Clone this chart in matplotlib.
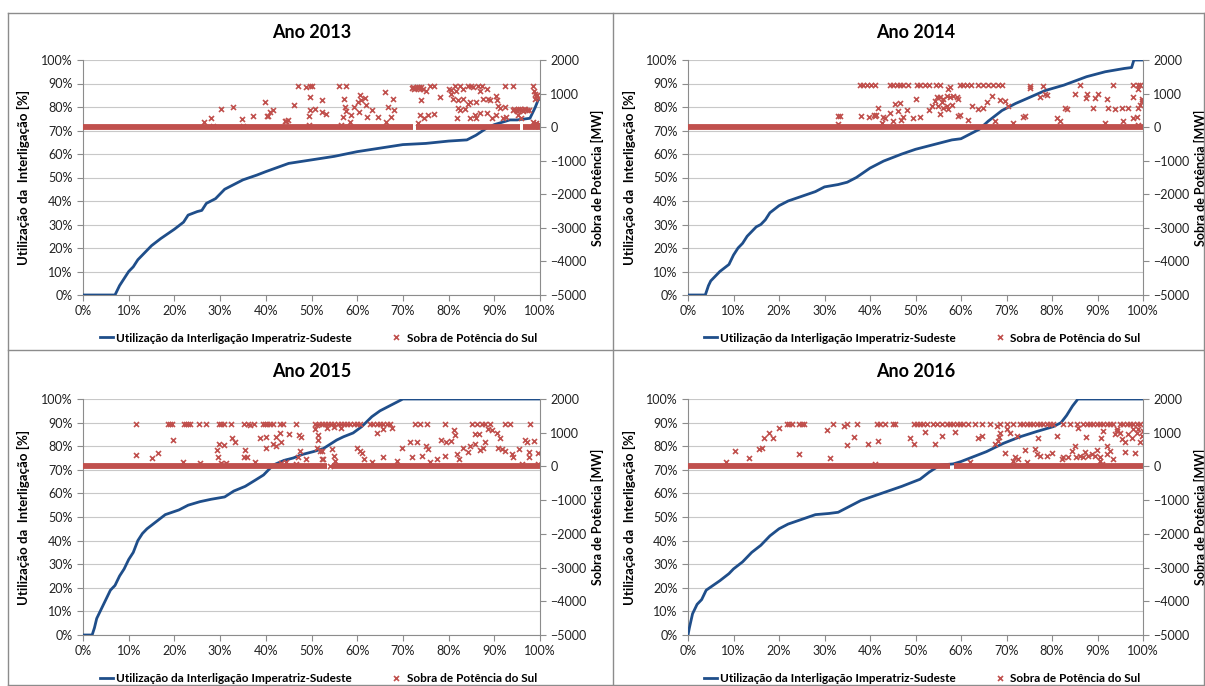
import matplotlib
matplotlib.use('Agg')
import matplotlib.pyplot as plt
from matplotlib.lines import Line2D
from matplotlib.ticker import FuncFormatter

plt.rcParams['font.family'] = ['Lato', 'DejaVu Sans']

# ---- data ----
years = ['2013', '2014', '2015', '2016']

# utilizacao da interligacao: % do tempo -> % de utilizacao
line_2013_x = [0, 7, 8, 9, 10, 11, 12, 13, 15, 17, 20, 22, 23, 25, 26, 27, 29, 30, 31, 33, 35, 38, 40,
               45, 50, 55, 60, 65, 70, 75, 80, 84, 86, 88.3, 90, 93.4, 95, 97.8, 98.9, 99.6, 100]
line_2013_y = [0, 0, 4, 7, 10, 12, 15, 17, 21, 24, 28, 31, 34, 35.5, 36, 39, 41, 43, 45, 47, 49, 51, 52.5,
               56, 57.5, 59, 61, 62.5, 64, 64.5, 65.5, 66, 68, 71, 72.5, 74.5, 74.5, 75.2, 79.6, 83, 83.5]

line_2014_x = [0, 3.8, 4.5, 5, 6, 7, 8, 9, 10, 11, 12, 13, 15, 16, 17, 18, 20, 22, 25, 28, 30, 33, 35, 37,
               40, 43, 47, 50, 52, 55, 58, 60, 62, 64, 66, 69, 72, 74.5, 78.5, 82.6, 87.6, 91.7, 95.9, 97.5,
               98, 100]
line_2014_y = [0, 0, 4, 6, 8, 10, 11.5, 13, 17, 20, 22, 25, 29, 30, 32, 35, 38, 40, 42, 44, 46, 47, 48, 50,
               54, 57, 60, 62, 63, 64.5, 66, 66.5, 68.5, 70.5, 74, 78.5, 81.5, 83.6, 87, 89.3, 92.9, 95, 96.4,
               96.8, 100, 100]

line_2015_x = [0, 2, 2.5, 3, 4, 5, 6, 7, 8, 9, 10, 11, 12, 13, 14, 16, 18, 21, 23, 25.6, 28, 29.5, 31,
               33, 35.5, 37.6, 39.5, 41.6, 44, 46, 48, 50.4, 52.6, 55.5, 57, 59.1, 61, 63.2, 65, 67, 68.5, 70,
               100]
line_2015_y = [0, 0, 3, 7, 11, 15, 19, 21, 25, 28, 32, 35, 40, 43, 45, 48, 51, 53, 55, 56.5, 57.5, 58,
               58.5, 61, 63, 65.5, 67.8, 72, 74, 75, 76.5, 77.7, 79, 82.6, 84, 85.6, 88.3, 92.5, 95, 97, 98.5,
               100, 100]

line_2016_x = [0, 0.3, 1, 2, 3, 4, 5.5, 7, 9, 10, 12, 14, 16, 18, 20, 22, 25, 28, 31, 33, 35, 38, 41, 44,
               47, 51, 53, 55.4, 58.3, 60, 62, 65.6, 69.3, 73, 76.6, 80.3, 82, 83.2, 84.5, 85.7, 100]
line_2016_y = [0, 3, 9, 13, 15, 19, 21, 23, 26, 28, 31, 35, 38, 42, 45, 47, 49, 51, 51.5, 52, 54, 57, 59,
               61, 63, 66, 69, 72, 72.5, 73.5, 75, 77.7, 81.2, 84, 86.2, 88.3, 90, 93, 97, 100, 100]

# sobra de potencia do sul: faixas de tempo (em %) com sobra = 0 MW
zero_2013 = [(0, 72.2), (72.9, 95.6), (96.2, 100)]
zero_2014 = [(0, 100)]
zero_2015 = [(0, 53.3), (54.5, 100)]
zero_2016 = [(0, 57.6), (58.4, 100)]

# pontos com sobra > 0: (% do tempo, MW)
pts_2013 = [(26.5, 160), (28.0, 265), (28.5, 35), (30.3, 540), (32.9, 590), (34.9, 235), (35.1, 35),
            (37.2, 340), (39.8, 750), (40.2, 330), (40.5, 340), (40.9, 440), (41.6, 505), (44.2, 180),
            (44.4, 195), (44.9, 215), (46.1, 650), (47.1, 1235), (48.9, 1205), (49.6, 1215), (50.1, 1215),
            (49.6, 895), (49.6, 505), (49.5, 340), (50.7, 535), (52.2, 800), (52.4, 440), (53.1, 390),
            (49.5, 70), (56.0, 1215), (57.6, 1215), (57.1, 825), (57.3, 600), (57.6, 475), (56.9, 310),
            (58.7, 360), (58.4, 165), (56.5, 70), (60.6, 945), (60.9, 800), (61.6, 865), (60.2, 750),
            (62.0, 650), (59.3, 600), (60.4, 455), (62.2, 310), (63.3, 505), (64.6, 310), (66.0, 1060),
            (66.8, 600), (67.8, 825), (68.0, 505), (67.5, 310), (66.4, 165), (71.9, 1180), (72.3, 1190),
            (72.7, 1170), (73.0, 1200), (73.3, 1160), (73.6, 1185), (74.0, 1200), (74.4, 1150),
            (72.5, 1140), (73.8, 1130), (74.0, 800), (75.1, 1090), (75.9, 1215), (76.8, 1215), (73.7, 360),
            (74.6, 280), (75.5, 360), (76.7, 380), (73.3, 115), (78.2, 895), (80.1, 1140), (80.6, 1120),
            (80.5, 990), (81.3, 1215), (81.7, 1090), (82.6, 1215), (83.2, 1140), (84.3, 1235), (85.0, 1215),
            (85.3, 1185), (86.4, 1235), (87.2, 1215), (86.8, 1090), (88.4, 1140), (81.0, 850), (82.1, 800),
            (83.2, 825), (84.3, 700), (82.1, 575), (82.4, 505), (83.5, 555), (84.6, 750), (86.1, 750),
            (87.5, 845), (88.6, 845), (89.0, 800), (90.4, 925), (90.6, 800), (91.3, 575), (92.3, 600),
            (90.8, 630), (81.8, 260), (84.6, 260), (85.7, 360), (86.1, 260), (86.8, 410), (88.3, 410),
            (89.6, 280), (90.4, 360), (91.8, 260), (92.6, 310), (92.3, 1215), (94.1, 1215), (98.5, 1235),
            (98.6, 1090), (94.0, 520), (94.4, 540), (94.8, 500), (95.2, 530), (95.6, 545), (96.0, 510),
            (96.4, 530), (96.8, 550), (97.2, 520), (97.6, 500), (95.0, 480), (96.2, 490), (95.2, 360),
            (95.9, 280), (98.8, 990), (99.2, 925), (99.0, 845), (99.4, 960), (99.7, 880), (98.5, 165),
            (98.9, 80), (99.2, 120), (99.5, 40), (99.8, 100), (99.0, 20)]

pts_2014 = [(32.9, 100), (32.9, 320), (33.4, 325), (38.0, 343), (39.7, 304), (40.9, 372),
            (37.8, 1250), (38.5, 1250), (39.3, 1250), (40.2, 1250), (41.1, 1250), (44.4, 1250), (45.1, 1250),
            (45.9, 1250), (46.6, 1250), (47.3, 1250), (48.4, 1250), (50.3, 1250), (51.0, 1250), (52.1, 1250),
            (53.0, 1250), (54.5, 1250), (55.4, 1250), (59.8, 1250), (60.5, 1250), (61.3, 1250), (62.1, 1250),
            (63.8, 1250), (64.9, 1250), (66.0, 1250), (67.1, 1250), (68.2, 1250), (69.1, 1250), (75.2, 1240),
            (78.1, 1240), (86.2, 1250), (93.5, 1250), (97.9, 1250), (99.0, 1250),
            (41.1, 325), (41.8, 580), (41.3, 375), (42.9, 295), (43.4, 275), (44.4, 430), (42.6, 120),
            (45.1, 175), (45.5, 685), (46.6, 705), (46.2, 480), (46.9, 225), (48.1, 500), (47.3, 295),
            (49.4, 275), (50.1, 835), (51.0, 295), (53.0, 500), (53.6, 630), (54.3, 785), (54.7, 910),
            (55.4, 910), (55.8, 735), (56.1, 835), (56.9, 940), (57.6, 890), (58.3, 940), (59.1, 890),
            (59.4, 835), (57.2, 1140), (57.6, 1195), (55.0, 630), (56.1, 580), (56.9, 630), (57.2, 530),
            (58.0, 655), (55.4, 400), (59.8, 375), (59.4, 325), (62.4, 630), (61.6, 225), (63.8, 530),
            (64.9, 580), (65.7, 735), (66.8, 940), (68.6, 805), (69.7, 785), (70.4, 630), (67.5, 175),
            (71.5, 120), (73.6, 295), (74.1, 325), (75.2, 1170), (77.4, 890), (78.5, 990), (78.9, 970),
            (81.0, 275), (81.8, 175), (83.2, 530), (82.9, 580), (85.1, 990), (87.6, 990), (87.5, 865),
            (89.1, 580), (89.5, 865), (90.2, 990), (92.0, 835), (91.7, 120), (92.4, 580), (93.9, 530),
            (95.3, 580), (95.7, 175), (96.8, 580), (97.9, 275), (97.9, 890), (98.6, 295), (98.8, 580),
            (99.4, 655), (99.7, 785), (99.0, 1140), (99.4, 1245), (99.7, 835), (99.0, 70)]

pts_2015 = [(11.7, 1250), (18.7, 1250), (19.1, 1250), (19.4, 1250), (22.0, 1250), (22.5, 1250),
            (23.0, 1250), (23.5, 1250), (25.4, 1250), (26.9, 1250), (29.8, 1250), (30.3, 1250), (30.8, 1250),
            (32.3, 1250), (35.2, 1250), (36.1, 1250), (36.5, 1220), (37.4, 1250), (39.3, 1250), (39.8, 1250),
            (40.3, 1250), (40.9, 1250), (41.6, 1250), (43.1, 1250), (43.7, 1250), (46.7, 1250), (50.7, 1250),
            (51.2, 1220), (51.7, 1250), (52.3, 1250), (53.0, 1250), (53.6, 1250), (54.3, 1250), (55.0, 1250),
            (55.7, 1250), (56.4, 1250), (57.1, 1250), (57.8, 1250), (58.5, 1250), (59.2, 1250), (59.9, 1250),
            (60.6, 1250), (62.8, 1250), (63.5, 1250), (64.3, 1250), (65.0, 1250), (65.7, 1250), (66.5, 1250),
            (67.2, 1250), (72.7, 1250), (73.8, 1250), (75.2, 1250), (79.2, 1250), (85.1, 1250), (86.2, 1250),
            (87.3, 1250), (88.0, 1250), (89.1, 1250), (92.4, 1250), (93.5, 1250), (97.8, 1250),
            (11.6, 345), (15.0, 245), (16.5, 395), (19.6, 780), (21.8, 120), (25.6, 90), (29.4, 490),
            (29.8, 660), (30.8, 640), (29.6, 265), (30.1, 90), (31.4, 90), (32.5, 855), (33.2, 710),
            (35.4, 490), (35.2, 265), (35.8, 265), (37.6, 120), (38.7, 835), (40.0, 875), (40.0, 560),
            (41.6, 660), (42.2, 610), (42.3, 875), (43.2, 1005), (43.4, 710), (45.1, 955), (47.3, 935),
            (47.8, 875), (47.5, 445), (47.1, 285), (48.9, 215), (44.5, 120), (43.4, 90), (46.7, 70),
            (50.7, 1105), (51.5, 935), (51.5, 780), (51.1, 560), (52.2, 465), (52.2, 215), (51.9, 465),
            (52.5, 215), (54.5, 530), (55.0, 315), (55.2, 165), (54.1, 20), (53.5, 1150), (55.0, 1170),
            (56.5, 1130), (59.9, 560), (60.6, 465), (61.4, 215), (61.0, 385), (63.2, 120), (64.3, 1005),
            (65.7, 1105), (67.6, 1150), (68.7, 165), (65.7, 285), (69.8, 540), (71.6, 710), (73.0, 710),
            (72.0, 285), (74.1, 315), (75.1, 610), (75.6, 515), (75.9, 120), (77.4, 215), (78.3, 780),
            (79.5, 710), (80.5, 760), (79.2, 315), (81.1, 1080), (81.4, 935), (81.8, 365), (82.2, 215),
            (83.2, 560), (84.6, 610), (85.8, 660), (85.8, 955), (86.7, 955), (87.6, 560), (86.9, 480),
            (84.3, 415), (88.0, 710), (88.7, 1105), (89.4, 1080), (90.5, 1005), (91.3, 855), (90.9, 560),
            (91.6, 515), (92.4, 465), (93.8, 365), (94.2, 265), (95.3, 515), (96.0, 70), (96.7, 780),
            (97.1, 710), (97.5, 415), (97.5, 265), (98.6, 760), (99.6, 385), (99.6, 70)]

pts_2016 = [(8.4, 120), (10.3, 465), (13.3, 245), (15.7, 515), (16.2, 560), (16.7, 835), (17.7, 985),
            (18.6, 835), (20.1, 1150), (21.7, 1250), (22.3, 1250), (22.8, 1250), (24.5, 1250), (25.0, 1250),
            (25.5, 1250), (24.4, 365), (30.5, 1075), (31.2, 245), (31.8, 1250), (34.3, 1200), (34.9, 1250),
            (35.0, 640), (36.4, 880), (37.1, 1250), (39.6, 660), (41.5, 1250), (42.2, 1250), (41.8, 760),
            (43.3, 1250), (45.0, 1250), (45.5, 1250), (41.0, 70), (48.7, 835), (49.6, 660), (49.6, 1250),
            (50.3, 1250), (51.0, 1250), (51.7, 1250), (52.5, 1250), (53.9, 1250), (54.7, 1250), (55.8, 1250),
            (56.9, 1250), (57.6, 1250), (58.3, 1250), (59.1, 1250), (59.8, 1250), (60.5, 1250), (61.6, 1250),
            (63.1, 1250), (64.6, 1250), (66.4, 1250), (68.6, 1250), (70.1, 1250), (71.5, 1250), (73.0, 1250),
            (73.7, 1250), (74.5, 1250), (75.2, 1250), (75.9, 1250), (76.7, 1250), (77.4, 1250), (78.1, 1250),
            (78.9, 1250), (79.6, 1250), (80.3, 1250), (82.5, 1250), (84.0, 1250), (85.5, 1250), (86.9, 1250),
            (87.7, 1250), (88.4, 1250), (89.1, 1250), (89.8, 1250), (90.6, 1250), (91.3, 1250), (92.0, 1250),
            (92.8, 1250), (93.5, 1250), (95.0, 1250), (95.7, 1250), (96.4, 1250), (97.2, 1250), (97.9, 1250),
            (98.6, 1250), (99.3, 1250),
            (52.1, 1030), (54.3, 680), (55.8, 905), (58.7, 1030), (62.0, 120), (63.8, 855), (64.6, 905),
            (67.9, 1200), (68.4, 880), (68.2, 760), (68.6, 1005), (67.5, 660), (69.7, 385), (70.8, 1005),
            (70.1, 1100), (71.5, 165), (71.9, 265), (72.3, 905), (72.6, 215), (74.1, 480), (74.5, 120),
            (76.3, 515), (76.7, 365), (77.0, 855), (77.4, 315), (78.9, 315), (80.0, 385), (81.1, 905),
            (82.2, 215), (82.5, 265), (83.6, 285), (84.4, 465), (85.1, 610), (85.3, 265), (85.8, 1150),
            (86.2, 315), (86.9, 285), (87.3, 415), (87.5, 880), (88.0, 315), (88.7, 365), (89.5, 315),
            (89.9, 480), (90.6, 285), (90.6, 165), (90.8, 855), (91.3, 1055), (91.0, 70), (92.0, 365),
            (92.0, 610), (92.8, 465), (93.5, 215), (93.9, 955), (94.2, 1100), (94.2, 1055), (95.0, 1005),
            (95.3, 805), (96.1, 415), (96.1, 735), (96.8, 955), (97.5, 855), (97.9, 1100), (98.3, 385),
            (98.6, 1005), (99.0, 1100), (99.4, 735), (99.7, 905), (99.9, 1055)]

lines_x = [line_2013_x, line_2014_x, line_2015_x, line_2016_x]
lines_y = [line_2013_y, line_2014_y, line_2015_y, line_2016_y]
zeros = [zero_2013, zero_2014, zero_2015, zero_2016]
points = [pts_2013, pts_2014, pts_2015, pts_2016]

label_line = 'Utilização da Interligação Imperatriz-Sudeste'
label_pts = 'Sobra de Potência do Sul'

BLUE = '#1F4E8A'
RED = '#C0504D'
GRAY = '#8C8C8C'

W, H = 1205, 686
fig = plt.figure(figsize=(W / 100, H / 100), dpi=100)

# panel frames
for seg in [((8, 1204), (13, 13)), ((8, 1204), (685, 685)), ((8, 8), (13, 685)), ((1204, 1204), (13, 685)),
            ((613, 613), (13, 685)), ((8, 1204), (350, 350))]:
    fig.add_artist(Line2D([seg[0][0] / W, seg[0][1] / W], [1 - seg[1][0] / H, 1 - seg[1][1] / H],
                          color=GRAY, lw=1))

# axes boxes in pixels: left, top, width, height
boxes = [(83, 60, 457, 235), (688, 60, 455, 235), (83, 399, 457, 236), (688, 399, 455, 236)]

pct = FuncFormatter(lambda v, p: '%d%%' % round(v))

for i, yr in enumerate(years):
    l, t, w, h = boxes[i]
    ax = fig.add_axes([l / W, 1 - (t + h) / H, w / W, h / H])
    ax.plot(lines_x[i], lines_y[i], color=BLUE, lw=2.0, zorder=3)
    ax.set_xlim(0, 100)
    ax.set_ylim(0, 100)
    ax.set_xticks(range(0, 101, 10))
    ax.set_yticks(range(0, 101, 10))
    ax.xaxis.set_major_formatter(pct)
    ax.yaxis.set_major_formatter(pct)
    ax.yaxis.grid(True, color='#C8C8C8', lw=0.8)
    ax.set_axisbelow(True)
    for s in ['top', 'right']:
        ax.spines[s].set_visible(False)
    for s in ['left', 'bottom']:
        ax.spines[s].set_color(GRAY)
    ax.tick_params(colors=GRAY, labelcolor='#222222', labelsize=9, length=4, width=0.8)
    ax.set_ylabel('Utilização da  Interligação [%]', fontsize=9.5, fontweight='bold')
    ax.yaxis.set_label_coords(-0.115, 0.5)
    ax.text(0.5, 1.115, 'Ano ' + yr, transform=ax.transAxes, ha='center', va='center',
            fontsize=13, fontweight='bold')

    ax2 = ax.twinx()
    ax2.set_ylim(-5000, 2000)
    ax2.set_yticks(range(-5000, 2001, 1000))
    for a, b in zeros[i]:
        ax2.plot([a, b], [0, 0], color=RED, lw=4.2, solid_capstyle='butt', zorder=2)
    px = [p[0] for p in points[i]]
    py = [p[1] for p in points[i]]
    ax2.plot(px, py, 'x', color=RED, ms=3.6, mew=1.2, ls='none', zorder=2)
    for s in ['top', 'left', 'bottom']:
        ax2.spines[s].set_visible(False)
    ax2.spines['right'].set_color(GRAY)
    ax2.tick_params(colors=GRAY, labelcolor='#222222', labelsize=9, length=4, width=0.8)
    ax2.set_ylabel('Sobra de Potência [MW]', fontsize=9, fontweight='bold')
    ax2.yaxis.set_label_coords(1.112, 0.5)

    handles = [Line2D([], [], color=BLUE, lw=2.0),
               Line2D([], [], color=RED, marker='x', ms=3.6, mew=1.2, ls='none')]
    ax.legend(handles, [label_line, label_pts], loc='center', bbox_to_anchor=(0.515, -0.183),
              ncol=2, frameon=False, handlelength=1.1, handletextpad=0.3,
              columnspacing=3.2, prop={'weight': 'bold', 'size': 8.5})

fig.savefig('out.png', dpi=100)
